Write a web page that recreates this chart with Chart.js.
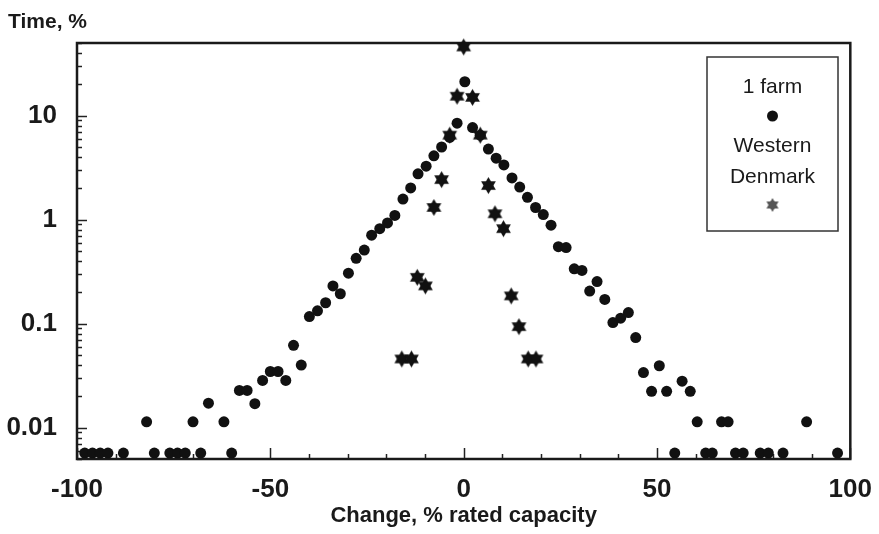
<!DOCTYPE html>
<html lang="en">
<head>
  <meta charset="UTF-8">
  <title>Time vs change</title>
  <script src="https://cdn.jsdelivr.net/npm/chart.js"></script>
  <style>
    body { margin: 0; background: #fff; }
  </style>
</head>
<body>
  <canvas id="grafico" width="879" height="534"></canvas>
<script>
  // 1 farm (circulos)
  const farmX = [-98, -96, -94, -92, -88, -82, -80, -76, -74, -72, -70, -68, -66, -62, -60,
    -58, -56, -54, -52, -50, -48, -46, -44, -42, -39.9, -37.8, -35.7, -33.8, -31.9, -29.8, -27.8, -25.7,
    -23.8, -21.7, -19.7, -17.8, -15.7, -13.7, -11.8, -9.7, -7.7, -5.7, -3.6, -1.7, 0.3, 2.3, 4.3, 6.4,
    8.4, 10.4, 12.5, 14.5, 16.5, 18.6, 20.6, 22.6, 24.5, 26.5, 28.6, 30.6, 32.6, 34.5, 36.5, 38.6,
    40.6, 42.6, 44.5, 46.5, 48.6, 50.6, 52.5, 54.6, 56.5, 58.6, 60.4, 62.6, 64.3, 66.7, 68.4, 70.3,
    72.3, 76.7, 78.8, 82.6, 88.7, 96.7];
  const farmY = [0.0057, 0.0057, 0.0057, 0.0057, 0.0057, 0.0114, 0.0057, 0.0057, 0.0057, 0.0057, 0.0114, 0.0057, 0.0172, 0.0114, 0.0057,
    0.0228, 0.0228, 0.017, 0.0285, 0.0347, 0.0347, 0.0285, 0.062, 0.040, 0.117, 0.133, 0.159, 0.231, 0.194, 0.306, 0.425, 0.51,
    0.71, 0.82, 0.93, 1.1, 1.58, 2.02, 2.76, 3.27, 4.11, 5.0, 6.18, 8.47, 21.2, 7.69, 6.5, 4.78,
    3.9, 3.36, 2.52, 2.06, 1.64, 1.31, 1.12, 0.885, 0.55, 0.54, 0.337, 0.325, 0.206, 0.254, 0.171, 0.1025,
    0.113, 0.128, 0.0736, 0.0339, 0.0224, 0.0394, 0.0224, 0.0057, 0.028, 0.0224, 0.0114, 0.0057, 0.0057, 0.0114, 0.0114, 0.0057,
    0.0057, 0.0057, 0.0057, 0.0057, 0.0114, 0.0057];

  // Western Denmark (estrelas)
  const dkX = [-16, -13.5, -12, -9.9, -7.7, -5.7, -3.6, -1.7, 0, 2.3, 4.3, 6.4, 8.1, 10.3, 12.3, 14.3, 16.7, 18.7];
  const dkY = [0.0458, 0.0458, 0.279, 0.231, 1.31, 2.43, 6.5, 15.4, 45.8, 15.0, 6.5, 2.13, 1.14, 0.82, 0.185, 0.0937, 0.0458, 0.0458];

  const xTicks = [-100, -50, 0, 50, 100];
  const yTicks = [0.01, 0.1, 1, 10];
  const yTickLabels = ['0.01', '0.1', '1', '10'];

  const fonte = "'Liberation Sans', Arial, sans-serif";
  const corTexto = '#1a1a1a';

  // estrela de seis pontas desenhada num canvas pequeno, usada como pointStyle
  function estrela(r, cor) {
    const c = document.createElement('canvas');
    const s = Math.ceil(r * 2 + 2);
    c.width = s;
    c.height = s;
    const g = c.getContext('2d');
    g.fillStyle = cor;
    g.translate(s / 2, s / 2);
    for (const rot of [0, Math.PI]) {
      g.beginPath();
      for (let i = 0; i < 3; i++) {
        const a = rot - Math.PI / 2 + i * 2 * Math.PI / 3;
        g.lineTo(r * Math.cos(a), r * Math.sin(a));
      }
      g.closePath();
      g.fill();
    }
    return c;
  }

  const estrelaPreta = estrela(8.5, '#111');
  const estrelaCinza = estrela(7, '#555');

  // moldura, marcas dos eixos (para dentro), titulo do eixo y e legenda
  const moldura = {
    id: 'moldura',
    beforeDatasetsDraw(chart) {
      const { ctx, chartArea: a, scales } = chart;
      ctx.save();
      ctx.strokeStyle = '#222';
      ctx.lineWidth = 1.5;
      // marcas x a cada 10
      for (let v = -100; v <= 100; v += 10) {
        const px = Math.round(scales.x.getPixelForValue(v)) + 0.5;
        const len = v % 50 === 0 ? 11 : 5;
        ctx.beginPath();
        ctx.moveTo(px, a.bottom);
        ctx.lineTo(px, a.bottom - len);
        ctx.stroke();
      }
      // marcas y (log)
      for (let e = -3; e <= 2; e++) {
        for (let m = 1; m <= 9; m++) {
          const v = m * Math.pow(10, e);
          if (v < scales.y.min || v > scales.y.max) continue;
          const py = Math.round(scales.y.getPixelForValue(v)) + 0.5;
          const len = m === 1 ? 10 : 5;
          ctx.beginPath();
          ctx.moveTo(a.left, py);
          ctx.lineTo(a.left + len, py);
          ctx.stroke();
        }
      }
      ctx.lineWidth = 2.5;
      ctx.strokeStyle = '#1a1a1a';
      ctx.strokeRect(a.left, a.top, a.right - a.left, a.bottom - a.top);

      ctx.fillStyle = corTexto;
      ctx.font = 'bold 21px ' + fonte;
      ctx.textAlign = 'left';
      ctx.textBaseline = 'alphabetic';
      ctx.fillText('Time, %', 8, 28);
      ctx.restore();
    },
    afterDatasetsDraw(chart) {
      const { ctx, chartArea: a } = chart;
      const bw = 131, bh = 174;
      const bx = 707, by = 57;
      const cx = bx + bw / 2;
      ctx.save();
      ctx.fillStyle = '#fff';
      ctx.fillRect(bx, by, bw, bh);
      ctx.strokeStyle = '#333';
      ctx.lineWidth = 1.5;
      ctx.strokeRect(bx, by, bw, bh);
      ctx.fillStyle = corTexto;
      ctx.font = '21px ' + fonte;
      ctx.textAlign = 'center';
      ctx.textBaseline = 'middle';
      ctx.fillText('1 farm', cx, by + 30);
      ctx.fillText('Western', cx, by + 89);
      ctx.fillText('Denmark', cx, by + 120);
      ctx.fillStyle = '#111';
      ctx.beginPath();
      ctx.arc(cx, by + 59, 5.5, 0, Math.PI * 2);
      ctx.fill();
      ctx.drawImage(estrelaCinza, cx - estrelaCinza.width / 2, by + 148 - estrelaCinza.height / 2);
      ctx.restore();
    }
  };

  const ctx = document.getElementById('grafico');

  new Chart(ctx, {
    type: 'scatter',
    data: {
      datasets: [{
        label: '1 farm',
        data: farmX.map((x, i) => ({ x: x, y: farmY[i] })),
        pointStyle: 'circle',
        pointRadius: 5.5,
        backgroundColor: '#111',
        borderWidth: 0,
        clip: false
      },
      {
        label: 'Western Denmark',
        data: dkX.map((x, i) => ({ x: x, y: dkY[i] })),
        pointStyle: estrelaPreta,
        pointRadius: 8,
        clip: false
      }]
    },
    options: {
      responsive: false,
      animation: false,
      layout: { padding: { top: 43, right: 21, left: 0, bottom: 0 } },
      plugins: {
        legend: { display: false },
        tooltip: { enabled: false }
      },
      scales: {
        x: {
          type: 'linear',
          min: -100,
          max: 100,
          grid: { display: false },
          border: { display: false },
          afterBuildTicks: s => { s.ticks = xTicks.map(v => ({ value: v })); },
          afterFit: s => { s.height = 75; },
          ticks: {
            autoSkip: false,
            maxRotation: 0,
            padding: 7,
            color: corTexto,
            font: { family: fonte, weight: 'bold', size: 26 }
          },
          title: {
            display: true,
            text: 'Change, % rated capacity',
            color: corTexto,
            font: { family: fonte, weight: 'bold', size: 22 },
            padding: { top: 0, bottom: 5 }
          }
        },
        y: {
          type: 'logarithmic',
          min: 0.005,
          max: 50,
          grid: { display: false },
          border: { display: false },
          afterBuildTicks: s => { s.ticks = yTicks.map(v => ({ value: v })); },
          afterFit: s => { s.width = 77; },
          ticks: {
            padding: 12,
            color: corTexto,
            font: { family: fonte, weight: 'bold', size: 26 },
            callback: v => {
              const i = yTicks.indexOf(v);
              return i >= 0 ? yTickLabels[i] : '';
            }
          }
        }
      }
    },
    plugins: [moldura]
  });
</script>
</body>
</html>
